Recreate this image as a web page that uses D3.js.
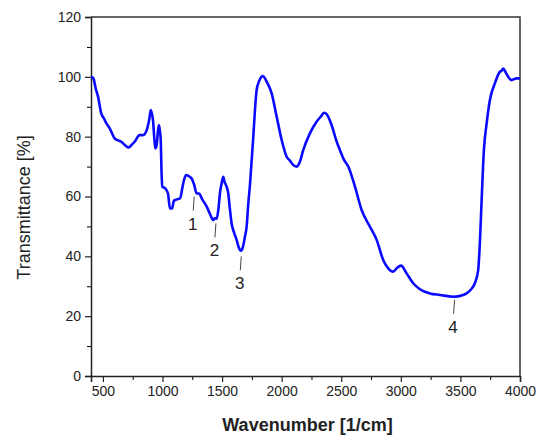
<!DOCTYPE html>
<html>
<head>
<meta charset="utf-8">
<script src="https://cdn.jsdelivr.net/npm/d3@7"></script>
<style>
  body { margin: 0; background: #fff; }
  text { font-family: "Liberation Sans", Arial, sans-serif; fill: #222; }
</style>
</head>
<body>
<div id="chart"></div>
<script>
// FTIR spectrum
const wavenumber = [400, 420, 440, 459, 486, 510, 528, 557, 599, 654, 690, 716, 740, 766, 808, 836, 872, 890, 901, 912,
  920, 932, 940, 947, 954, 962, 970, 978, 985, 992, 998, 1023, 1046, 1063, 1080, 1095, 1105, 1147, 1174, 1197,
  1220, 1245, 1265, 1287, 1309, 1329, 1371, 1400, 1426, 1440, 1455, 1468, 1485, 1496, 1510, 1520, 1538, 1552, 1565, 1580,
  1600, 1622, 1640, 1656, 1670, 1692, 1706, 1720, 1734, 1748, 1762, 1776, 1790, 1810, 1830, 1843, 1860, 1874, 1916, 1958,
  2000, 2042, 2069, 2097, 2126, 2153, 2181, 2237, 2293, 2330, 2349, 2360, 2377, 2419, 2460, 2489, 2520, 2559, 2615, 2671,
  2741, 2797, 2852, 2894, 2936, 2965, 3001, 3049, 3104, 3160, 3244, 3328, 3440, 3523, 3552, 3590, 3621, 3649, 3663, 3678,
  3697, 3720, 3747, 3789, 3831, 3845, 3859, 3880, 3901, 3929, 3971, 4000];
const transmittance = [100, 99.5, 96, 93.4, 87.8, 86, 84.5, 82.8, 79.4, 78.3, 77, 76.4, 77.2, 78.3, 80.5, 80.5, 82.8, 86, 88.9, 87.5,
  85.6, 79, 76.1, 76.5, 78.3, 82, 83.9, 82, 78.9, 68, 63.3, 62.7, 61, 56, 56, 58.5, 58.8, 59.4, 64.4, 67.2,
  66.8, 66, 64, 61, 61, 59.4, 56.6, 54, 52.1, 52.8, 52.6, 55.5, 62, 64.4, 66.6, 65, 63.3, 61, 56, 51,
  48, 45.5, 43, 41.9, 42.5, 46.6, 49.9, 57.7, 64, 72, 80, 89, 95.6, 98.5, 100, 100.3, 99.5, 98.4, 94.5, 86.7,
  78.9, 73.3, 72, 70.5, 70, 71.6, 75.5, 81.1, 85, 86.8, 87.8, 88, 87.5, 83.9, 78.5, 75.5, 72.5, 70, 63.3, 55.5,
  49.9, 45.5, 38.8, 36, 34.9, 36, 36.9, 34.3, 31, 29, 27.6, 27.1, 26.5, 27.1, 27.6, 29, 31, 35.4, 44.3, 58.8,
  75.5, 84.4, 92.2, 97.8, 101.7, 102, 102.8, 101.5, 100, 98.9, 99.5, 99.5];

// numbered band markers
const bandLabels = ["1", "2", "3", "4"];
const bandWavenumber = [1262, 1444, 1657, 3447];
const bandTip = [60, 51, 40, 25.5];

const xTicks = [500, 1000, 1500, 2000, 2500, 3000, 3500, 4000];
const yTicks = [0, 20, 40, 60, 80, 100, 120];

const width = 538, height = 436;
const margin = { top: 17, right: 18, bottom: 60, left: 91 };

const svg = d3.select("#chart").append("svg")
  .attr("width", width)
  .attr("height", height);

const x = d3.scaleLinear().domain([400, 4000]).range([margin.left, width - margin.right]);
const y = d3.scaleLinear().domain([0, 120]).range([height - margin.bottom, margin.top]);

// minor ticks
svg.append("g")
  .attr("transform", `translate(0,${y(0)})`)
  .call(d3.axisBottom(x).tickValues(d3.range(750, 4000, 500)).tickSize(4).tickFormat(""))
  .call(g => g.select(".domain").remove());
svg.append("g")
  .attr("transform", `translate(${x(400)},0)`)
  .call(d3.axisLeft(y).tickValues(d3.range(10, 120, 20)).tickSize(4).tickFormat(""))
  .call(g => g.select(".domain").remove());

// major axes
const xAxis = svg.append("g")
  .attr("transform", `translate(0,${y(0)})`)
  .call(d3.axisBottom(x).tickValues(xTicks).tickFormat(d3.format("d")).tickSize(6).tickPadding(4));
const yAxis = svg.append("g")
  .attr("transform", `translate(${x(400)},0)`)
  .call(d3.axisLeft(y).tickValues(yTicks).tickFormat(d3.format("d")).tickSize(6).tickPadding(4));

[xAxis, yAxis].forEach(a => {
  a.selectAll("text").style("font-size", "14px").attr("fill", "#222");
  a.selectAll("line").attr("stroke", "#222").attr("stroke-width", 1.2);
  a.select(".domain").attr("stroke", "#222").attr("stroke-width", 1.5);
});

// top and right frame
svg.append("path")
  .attr("d", `M${x(400)},${y(120)}H${x(4000)}V${y(0)}`)
  .attr("fill", "none")
  .attr("stroke", "#333")
  .attr("stroke-width", 1.5);

// spectrum
const pts = wavenumber.map((w, i) => [w, transmittance[i]]);
svg.append("path")
  .datum(pts)
  .attr("fill", "none")
  .attr("stroke", "#0a0aff")
  .attr("stroke-width", 2.6)
  .attr("stroke-linejoin", "round")
  .attr("d", d3.line().x(d => x(d[0])).y(d => y(d[1])).curve(d3.curveMonotoneX));

// band markers
const marks = svg.append("g");
bandLabels.forEach((lbl, i) => {
  const px = x(bandWavenumber[i]), py = y(bandTip[i]);
  marks.append("line")
    .attr("x1", px + 0.5).attr("y1", py)
    .attr("x2", px - 0.5).attr("y2", py + 14)
    .attr("stroke", "#444").attr("stroke-width", 1);
  marks.append("text")
    .attr("x", px - 1).attr("y", py + 33)
    .attr("text-anchor", "middle")
    .style("font-size", "17px")
    .text(lbl);
});

// axis titles
svg.append("text")
  .attr("x", (x(400) + x(4000)) / 2 + 2)
  .attr("y", 431)
  .attr("text-anchor", "middle")
  .style("font-size", "18px")
  .style("font-weight", "bold")
  .text("Wavenumber [1/cm]");

svg.append("text")
  .attr("transform", `translate(30,${(y(0) + y(120)) / 2 + 11}) rotate(-90)`)
  .attr("text-anchor", "middle")
  .style("font-size", "18px")
  .text("Transmittance [%]");
</script>
</body>
</html>
